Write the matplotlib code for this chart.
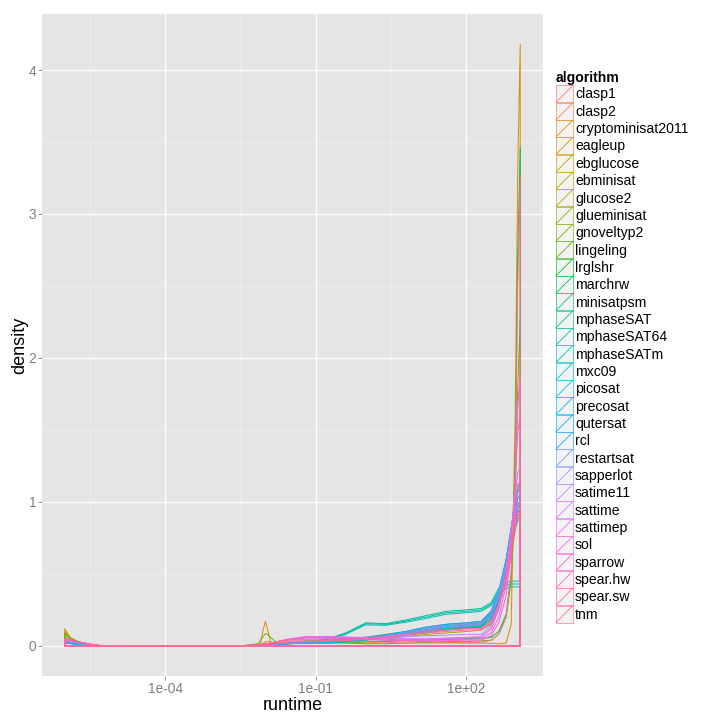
import numpy as np
import matplotlib
matplotlib.use('Agg')
import matplotlib.pyplot as plt
from matplotlib.lines import Line2D
from matplotlib.patches import Rectangle
from matplotlib.legend_handler import HandlerBase
from matplotlib.ticker import FixedLocator, FuncFormatter

plt.rcParams['font.family'] = ['Liberation Sans', 'DejaVu Sans']

log_runtime = [-6.0, -5.95, -5.88, -5.7, -5.5, -5.3, -3.0, -2.5, -2.15, -2.1, -2.04, -2.0,
               -1.96, -1.9, -1.8, -1.6, -1.2, -0.8, -0.4, 0.0, 0.4, 0.8, 1.2, 1.6, 2.0, 2.3,
               2.5, 2.65, 2.8, 2.9, 2.98, 3.03, 3.08]

algorithms = ['clasp1', 'clasp2', 'cryptominisat2011', 'eagleup', 'ebglucose', 'ebminisat',
              'glucose2', 'glueminisat', 'gnoveltyp2', 'lingeling', 'lrglshr', 'marchrw',
              'minisatpsm', 'mphaseSAT', 'mphaseSAT64', 'mphaseSATm', 'mxc09', 'picosat',
              'precosat', 'qutersat', 'rcl', 'restartsat', 'sapperlot', 'satime11', 'sattime',
              'sattimep', 'sol', 'sparrow', 'spear.hw', 'spear.sw', 'tnm']

density = [
    [0.04,0.036,0.032,0.02,0.009,0.002,0, 0,0.004,0.005,0.006,0.007,0.008,0.01,0.013,0.02, 0.03,0.035,0.04,0.05,0.07,0.09,0.11,0.13,0.14,0.15, 0.2,0.32,0.52,0.68,0.84,0.92,0.95],
    [0.035,0.032,0.028,0.018,0.008,0.002,0, 0,0.003,0.004,0.005,0.006,0.007,0.008,0.011,0.017, 0.028,0.034,0.042,0.055,0.075,0.1,0.12,0.14,0.15,0.16, 0.22,0.35,0.56,0.74,0.9,0.97,1.0],
    [0.06,0.05,0.04,0.022,0.01,0.002,0, 0,0.004,0.005,0.006,0.007,0.008,0.01,0.012,0.018, 0.03,0.04,0.05,0.06,0.075,0.09,0.11,0.13,0.15,0.17, 0.23,0.36,0.56,0.76,0.93,1.02,1.05],
    [0.12,0.09,0.055,0.025,0.01,0.002,0, 0,0.003,0.02,0.12,0.17,0.12,0.03,0.008,0.01, 0.025,0.035,0.03,0.02,0.03,0.035,0.03,0.025,0.02,0.02, 0.018,0.015,0.02,0.15,1.6,3.3,4.18],
    [0.1,0.08,0.05,0.025,0.01,0.002,0, 0,0.006,0.01,0.02,0.03,0.03,0.025,0.02,0.02, 0.025,0.03,0.035,0.045,0.06,0.08,0.1,0.12,0.13,0.14, 0.18,0.3,0.48,0.66,0.82,0.9,0.92],
    [0.09,0.075,0.05,0.024,0.01,0.002,0, 0,0.004,0.005,0.006,0.007,0.008,0.009,0.011,0.016, 0.025,0.03,0.035,0.05,0.065,0.085,0.1,0.12,0.13,0.14, 0.2,0.33,0.53,0.72,0.88,0.96,0.98],
    [0.08,0.068,0.048,0.024,0.01,0.002,0, 0,0.004,0.005,0.006,0.007,0.008,0.009,0.011,0.016, 0.02,0.025,0.03,0.04,0.05,0.065,0.08,0.09,0.1,0.11, 0.15,0.26,0.45,0.63,0.8,0.88,0.9],
    [0.085,0.072,0.05,0.025,0.01,0.002,0, 0,0.004,0.005,0.006,0.007,0.008,0.009,0.011,0.016, 0.022,0.027,0.032,0.045,0.06,0.08,0.1,0.115,0.125,0.13, 0.18,0.3,0.5,0.68,0.85,0.93,0.95],
    [0.085,0.07,0.05,0.025,0.01,0.002,0, 0,0.015,0.035,0.07,0.085,0.08,0.06,0.03,0.02, 0.02,0.02,0.02,0.015,0.015,0.02,0.025,0.03,0.03,0.035, 0.04,0.08,0.2,0.45,1.0,1.8,2.27],
    [0.06,0.05,0.038,0.02,0.009,0.002,0, 0,0.004,0.005,0.006,0.007,0.008,0.009,0.011,0.016, 0.025,0.03,0.035,0.045,0.06,0.08,0.1,0.12,0.13,0.135, 0.2,0.34,0.58,0.8,0.98,1.08,1.1],
    [0.05,0.045,0.035,0.02,0.009,0.002,0, 0,0.004,0.005,0.006,0.007,0.008,0.009,0.011,0.016, 0.03,0.035,0.04,0.05,0.065,0.09,0.11,0.13,0.14,0.15, 0.22,0.36,0.6,0.82,1.0,1.1,1.13],
    [0.03,0.028,0.024,0.015,0.007,0.002,0, 0,0.003,0.004,0.005,0.006,0.007,0.008,0.01,0.014, 0.02,0.02,0.025,0.03,0.035,0.04,0.04,0.045,0.05,0.05, 0.06,0.1,0.22,0.5,1.3,2.7,3.46],
    [0.04,0.036,0.03,0.018,0.008,0.002,0, 0,0.004,0.005,0.006,0.007,0.008,0.009,0.011,0.016, 0.03,0.035,0.045,0.06,0.08,0.1,0.13,0.15,0.16,0.17, 0.24,0.38,0.6,0.8,0.95,1.03,1.05],
    [0.03,0.028,0.024,0.015,0.007,0.002,0, 0,0.004,0.005,0.006,0.007,0.008,0.009,0.011,0.016, 0.035,0.045,0.09,0.16,0.155,0.18,0.21,0.24,0.25,0.26, 0.3,0.4,0.44,0.45,0.45,0.45,0.45],
    [0.028,0.026,0.022,0.014,0.007,0.002,0, 0,0.004,0.005,0.006,0.007,0.008,0.009,0.011,0.016, 0.033,0.043,0.085,0.154,0.15,0.172,0.2,0.23,0.24,0.25, 0.29,0.38,0.42,0.43,0.43,0.43,0.43],
    [0.026,0.024,0.02,0.013,0.006,0.002,0, 0,0.004,0.005,0.006,0.007,0.008,0.009,0.011,0.016, 0.03,0.04,0.08,0.146,0.143,0.165,0.19,0.22,0.23,0.24, 0.28,0.36,0.4,0.41,0.41,0.41,0.41],
    [0.025,0.022,0.02,0.012,0.006,0.001,0, 0,0.004,0.005,0.006,0.007,0.008,0.009,0.011,0.016, 0.02,0.025,0.03,0.04,0.055,0.075,0.09,0.11,0.12,0.13, 0.18,0.3,0.5,0.68,0.82,0.87,0.88],
    [0.02,0.018,0.016,0.01,0.005,0.001,0, 0,0.004,0.005,0.006,0.007,0.008,0.009,0.011,0.016, 0.02,0.025,0.03,0.045,0.06,0.08,0.1,0.12,0.13,0.14, 0.2,0.32,0.52,0.72,0.88,0.94,0.95],
    [0.02,0.018,0.016,0.01,0.005,0.001,0, 0,0.004,0.005,0.006,0.007,0.008,0.009,0.011,0.016, 0.02,0.027,0.035,0.05,0.07,0.09,0.12,0.14,0.15,0.16, 0.22,0.35,0.56,0.76,0.92,0.99,1.0],
    [0.022,0.02,0.017,0.011,0.005,0.001,0, 0,0.004,0.005,0.006,0.007,0.008,0.009,0.011,0.016, 0.022,0.028,0.034,0.048,0.065,0.085,0.11,0.13,0.14,0.15, 0.2,0.33,0.54,0.74,0.9,0.96,0.97],
    [0.025,0.022,0.02,0.012,0.006,0.001,0, 0,0.004,0.005,0.006,0.007,0.008,0.009,0.011,0.016, 0.025,0.03,0.04,0.055,0.075,0.1,0.13,0.15,0.16,0.17, 0.24,0.38,0.6,0.82,1.0,1.07,1.09],
    [0.03,0.027,0.024,0.015,0.007,0.002,0, 0,0.004,0.005,0.006,0.007,0.008,0.009,0.011,0.016, 0.025,0.03,0.038,0.05,0.07,0.095,0.12,0.14,0.15,0.16, 0.23,0.37,0.58,0.8,0.97,1.03,1.05],
    [0.04,0.036,0.032,0.02,0.009,0.002,0, 0,0.008,0.01,0.012,0.014,0.016,0.019,0.026,0.04, 0.045,0.05,0.05,0.055,0.065,0.085,0.11,0.13,0.14,0.15, 0.21,0.34,0.55,0.76,0.93,0.99,1.0],
    [0.045,0.04,0.035,0.022,0.01,0.002,0, 0,0.008,0.01,0.012,0.014,0.016,0.019,0.026,0.04, 0.055,0.06,0.06,0.06,0.06,0.065,0.07,0.075,0.08,0.08, 0.14,0.28,0.5,0.72,0.9,0.97,0.98],
    [0.05,0.046,0.04,0.026,0.012,0.003,0, 0,0.008,0.01,0.012,0.014,0.016,0.019,0.026,0.042, 0.06,0.065,0.06,0.055,0.05,0.05,0.05,0.055,0.06,0.065, 0.12,0.25,0.48,0.75,0.98,1.12,1.15],
    [0.05,0.046,0.04,0.026,0.012,0.003,0, 0,0.008,0.01,0.012,0.014,0.016,0.019,0.026,0.044, 0.065,0.065,0.06,0.055,0.05,0.045,0.045,0.05,0.055,0.06, 0.12,0.26,0.5,0.8,1.05,1.2,1.24],
    [0.05,0.046,0.04,0.026,0.012,0.003,0, 0,0.008,0.01,0.012,0.014,0.016,0.019,0.026,0.042, 0.06,0.06,0.055,0.05,0.045,0.04,0.04,0.04,0.045,0.05, 0.09,0.2,0.42,0.75,1.15,1.48,1.61],
    [0.05,0.046,0.04,0.026,0.012,0.003,0, 0,0.008,0.01,0.012,0.014,0.016,0.019,0.026,0.04, 0.055,0.055,0.05,0.045,0.04,0.035,0.035,0.035,0.04,0.04, 0.07,0.16,0.35,0.65,1.15,1.65,1.89],
    [0.045,0.04,0.035,0.022,0.01,0.002,0, 0,0.006,0.008,0.009,0.01,0.011,0.013,0.018,0.028, 0.03,0.035,0.04,0.05,0.065,0.08,0.1,0.11,0.12,0.12, 0.17,0.29,0.5,0.7,0.86,0.93,0.95],
    [0.045,0.04,0.035,0.022,0.01,0.002,0, 0,0.006,0.008,0.009,0.01,0.011,0.013,0.018,0.028, 0.03,0.035,0.04,0.048,0.06,0.075,0.09,0.1,0.11,0.11, 0.16,0.28,0.47,0.66,0.82,0.9,0.92],
    [0.05,0.046,0.04,0.026,0.012,0.003,0, 0,0.008,0.01,0.012,0.014,0.016,0.019,0.026,0.04, 0.04,0.04,0.035,0.03,0.025,0.02,0.02,0.02,0.02,0.025, 0.04,0.08,0.2,0.5,1.2,2.5,3.27],
]

x_ticks = [1e-4, 1e-1, 1e2]
y_ticks = [0, 1, 2, 3, 4]


def hcl(h, c=100, l=65):
    # ggplot2 hue palette (polar Luv -> sRGB)
    h = np.deg2rad(h)
    u, v = c * np.cos(h), c * np.sin(h)
    xn, yn, zn = 95.047, 100.0, 108.883
    Y = yn * ((l + 16) / 116) ** 3
    t = xn + 15 * yn + 3 * zn
    up = u / (13 * l) + 4 * xn / t
    vp = v / (13 * l) + 9 * yn / t
    X = 9 * Y * up / (4 * vp)
    Z = -X / 3 - 5 * Y + 3 * Y / vp
    rgb = np.array([3.240479 * X - 1.537150 * Y - 0.498535 * Z,
                    -0.969256 * X + 1.875992 * Y + 0.041556 * Z,
                    0.055648 * X - 0.204043 * Y + 1.057311 * Z]) / 100
    rgb = np.where(rgb <= 0.0031308, 12.92 * rgb, 1.055 * np.abs(rgb) ** (1 / 2.4) - 0.055)
    return tuple(np.clip(rgb, 0, 1))


n = len(algorithms)
colors = [hcl(15 + 360 * i / n) for i in range(n)]


class KeyHandler(HandlerBase):
    def create_artists(self, legend, orig_handle, xdescent, ydescent, width, height, fontsize, trans):
        c = orig_handle.get_color()
        x0, y0 = -xdescent, -ydescent
        box = Rectangle((x0, y0), width, height, facecolor='#F2F2F2', edgecolor=c,
                        lw=0.7, alpha=0.9, transform=trans)
        diag = Line2D([x0, x0 + width], [y0, y0 + height], color=c, lw=0.8, transform=trans)
        return [box, diag]


fig = plt.figure(figsize=(10, 10), dpi=72)
ax = fig.add_axes([42 / 720, 44 / 720, 501 / 720, 662 / 720])
ax.set_facecolor('#E5E5E5')

lx = np.array(log_runtime)
for name, d, c in zip(algorithms, density, colors):
    xs = np.concatenate([[lx[0]], lx, [lx[-1], lx[0]]])
    ys = np.concatenate([[0], d, [0, 0]])
    ax.plot(10 ** xs, ys, color=c, lw=1.0, solid_joinstyle='round')

ax.set_xscale('log')
ax.set_xlim(10 ** -6.454, 10 ** 3.534)
ax.set_ylim(-0.209, 4.389)

ax.xaxis.set_major_locator(FixedLocator(x_ticks))
ax.xaxis.set_major_formatter(FuncFormatter(lambda v, p: f'{v:.0e}'))
ax.xaxis.set_minor_locator(FixedLocator([10 ** -5.5, 10 ** -2.5, 10 ** 0.5, 10 ** 3.5]))
ax.set_yticks(y_ticks)
ax.set_yticks([0.5, 1.5, 2.5, 3.5], minor=True)

ax.grid(which='major', color='white', lw=1.3)
ax.grid(which='minor', color='#F2F2F2', lw=0.6)
ax.set_axisbelow(True)
for s in ax.spines.values():
    s.set_visible(False)
ax.tick_params(which='major', length=4, color='#7F7F7F', labelcolor='#7F7F7F', labelsize=13.8, pad=2)
ax.tick_params(which='minor', length=0)

ax.set_xlabel('runtime', fontsize=18)
ax.set_ylabel('density', fontsize=18)
ax.xaxis.set_label_coords(0.5, -0.031)
ax.yaxis.set_label_coords(-0.028, 0.5)

handles = [Line2D([], [], color=c) for c in colors]
leg = fig.legend(handles, algorithms, handler_map={Line2D: KeyHandler()},
                 loc='upper left', bbox_to_anchor=(556 / 720, 1 - 71 / 720),
                 frameon=False, fontsize=14, title='algorithm',
                 title_fontproperties={'weight': 'bold', 'size': 14},
                 handlelength=1.21, handleheight=1.49, handletextpad=0.15,
                 labelspacing=0.025, borderpad=0, borderaxespad=0, alignment='left')

fig.savefig('out.png', dpi=72, facecolor='white')
